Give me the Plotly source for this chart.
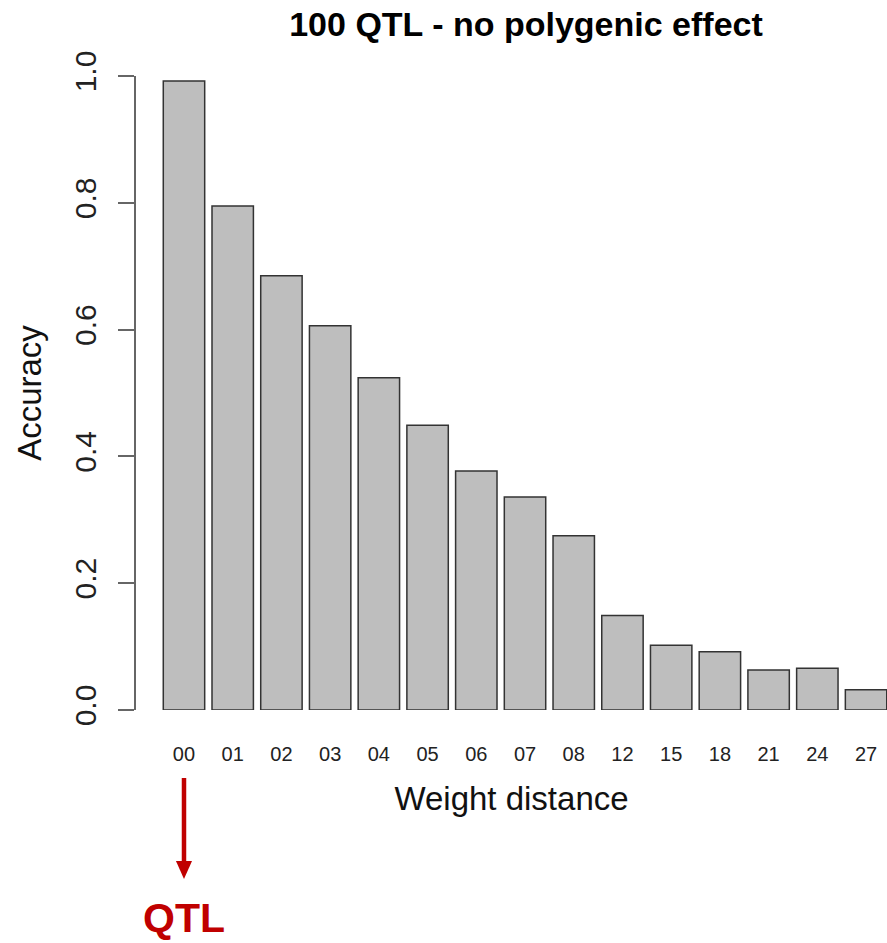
import plotly.graph_objects as go

# Weight distance classes and mean accuracy of each
distance_labels = ["00", "01", "02", "03", "04", "05", "06", "07", "08",
                   "12", "15", "18", "21", "24", "27"]
accuracy = [0.992, 0.795, 0.685, 0.606, 0.524, 0.449, 0.377, 0.336, 0.275,
            0.149, 0.102, 0.092, 0.063, 0.066, 0.032]
y_ticks = [0.0, 0.2, 0.4, 0.6, 0.8, 1.0]

W, H = 887, 943
M_L, M_R, M_T, M_B = 136, 0, 76, 233
PLOT_H = H - M_T - M_B
PLOT_BOTTOM = H - M_B


def paper_y(py):
    """Convert a page pixel row to paper y coordinate."""
    return (PLOT_BOTTOM - py) / PLOT_H


x_pos = list(range(len(distance_labels)))
font_family = "Liberation Sans, Arial, Helvetica, sans-serif"
red = "#c00000"

fig = go.Figure(
    go.Bar(
        x=x_pos,
        y=accuracy,
        width=0.85,
        marker=dict(color="#bebebe", line=dict(color="#333333", width=1.5)),
        hoverinfo="x+y",
    )
)

fig.update_layout(
    width=W,
    height=H,
    margin=dict(l=M_L, r=M_R, t=M_T, b=M_B),
    paper_bgcolor="white",
    plot_bgcolor="white",
    showlegend=False,
    font=dict(family=font_family, color="#111111"),
    title=dict(
        text="<b>100 QTL - no polygenic effect</b>",
        font=dict(size=34, color="#000000", family=font_family),
        x=526 / W,
        xref="container",
        xanchor="center",
        y=1 - 24 / H,
        yref="container",
        yanchor="middle",
    ),
)

fig.update_xaxes(
    range=[-0.985, 14.43],
    tickmode="array",
    tickvals=x_pos,
    ticktext=distance_labels,
    tickfont=dict(size=20, color="#222222"),
    ticks="",
    ticklabelstandoff=30,
    showline=False,
    showgrid=False,
    zeroline=False,
    title=dict(text="Weight distance", font=dict(size=33, color="#111111"),
               standoff=22),
)

fig.update_yaxes(
    range=[0, 1.0],
    tickmode="array",
    tickvals=y_ticks,
    ticktext=[f"{v:.1f}" for v in y_ticks],
    tickangle=-90,
    tickfont=dict(size=30, color="#222222"),
    ticks="outside",
    ticklen=16,
    tickwidth=1.5,
    tickcolor="#666666",
    ticklabelstandoff=10,
    showline=True,
    linecolor="#666666",
    linewidth=1.5,
    showgrid=False,
    zeroline=False,
    title=dict(text="Accuracy", font=dict(size=33, color="#111111"),
               standoff=18),
)

# Red arrow pointing from the "00" class down to the QTL label
fig.add_shape(
    type="line", xref="x", yref="paper",
    x0=0, x1=0, y0=paper_y(778), y1=paper_y(864),
    line=dict(color=red, width=4.5),
)
fig.add_shape(
    type="path", xref="x", yref="paper",
    path=(f"M -0.165,{paper_y(861)} L 0.165,{paper_y(861)} "
          f"L 0,{paper_y(879)} Z"),
    fillcolor=red,
    line=dict(color=red, width=0),
)
fig.add_annotation(
    x=0, xref="x", y=paper_y(918), yref="paper",
    text="<b>QTL</b>", showarrow=False,
    xanchor="center", yanchor="middle",
    font=dict(size=41, color=red, family=font_family),
)

fig.write_html("out.html")
